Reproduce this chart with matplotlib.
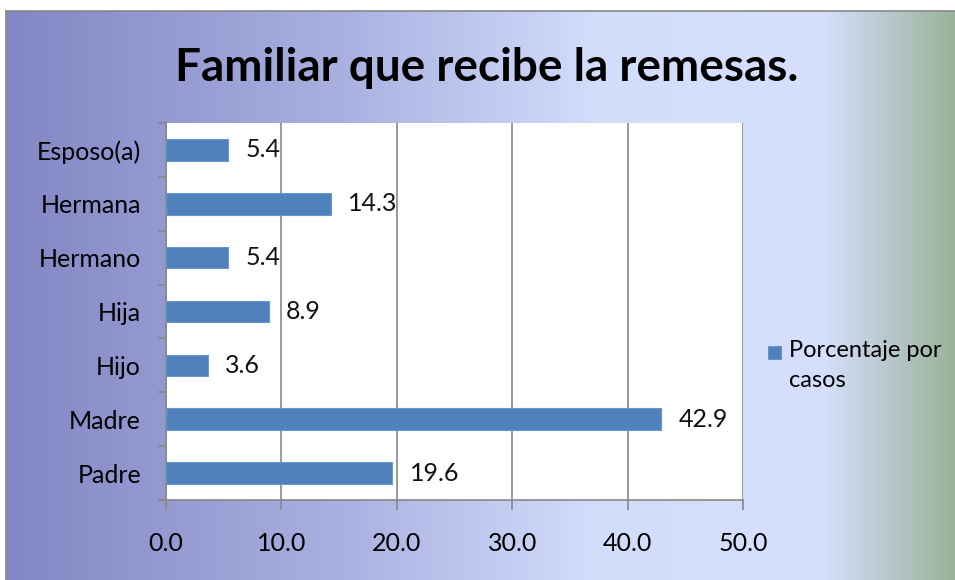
import numpy as np
import matplotlib.pyplot as plt
from matplotlib.colors import LinearSegmentedColormap
from matplotlib.patches import Rectangle

categorias = ["Padre", "Madre", "Hijo", "Hija", "Hermano", "Hermana", "Esposo(a)"]
porcentajes = [19.6, 42.9, 3.6, 8.9, 5.4, 14.3, 5.4]
xticks = [0, 10, 20, 30, 40, 50]
serie = "Porcentaje por\ncasos"

font = ["Lato", "DejaVu Sans"]
plt.rcParams['font.family'] = font

fig = plt.figure(figsize=(9.55, 5.8), dpi=100)
W, H = 955, 580

# fondo degradado
bg = fig.add_axes([6 / W, 0, 1 - 6 / W, (H - 11) / H])
cmap = LinearSegmentedColormap.from_list("fondo", [
    (0.0, "#8286C4"), (0.35, "#A9B0E0"), (0.62, "#D2DCFB"),
    (0.86, "#D6E0FE"), (1.0, "#9AB29B")])
bg.imshow(np.linspace(0, 1, 256).reshape(1, -1), aspect="auto", cmap=cmap,
          extent=[0, 1, 0, 1])
bg.set_xticks([])
bg.set_yticks([])
for s in bg.spines.values():
    s.set_color("#888888")
    s.set_linewidth(1.2)
bg.spines["right"].set_visible(False)
bg.spines["bottom"].set_visible(False)

ax = fig.add_axes([166 / W, (H - 500) / H, (743 - 166) / W, (500 - 123) / H])
ax.set_facecolor("white")
y = np.arange(len(categorias))
ax.barh(y, porcentajes, height=0.4, color="#4F81BD", edgecolor="#6C95C8",
        linewidth=0.8, zorder=3)
for yi, v in zip(y, porcentajes):
    ax.text(v + 1.5, yi, f"{v:.1f}", va="center", ha="left", fontsize=18,
            color="#111111")

ax.set_xlim(0, 50)
ax.set_ylim(-0.5, len(categorias) - 0.5)
ax.set_xticks(xticks)
ax.set_xticklabels([f"{t:.1f}" for t in xticks], fontsize=18)
ax.set_yticks(y)
ax.set_yticklabels(categorias, fontsize=18)
ax.set_yticks(np.arange(-0.5, len(categorias), 1), minor=True)
ax.tick_params(axis="y", which="major", length=0, pad=18)
ax.tick_params(axis="y", which="minor", length=6, color="#888888", width=1.2)
ax.tick_params(axis="x", length=7, color="#888888", width=1.2, pad=16)
ax.grid(axis="x", color="#888888", linewidth=1.2, zorder=1)
ax.spines["top"].set_visible(False)
ax.spines["right"].set_visible(False)
ax.spines["left"].set_color("#888888")
ax.spines["bottom"].set_color("#888888")
ax.spines["left"].set_linewidth(1.2)
ax.spines["bottom"].set_linewidth(1.2)

fig.text(487 / W, (H - 68) / H, "Familiar que recibe la remesas.",
         ha="center", va="center", fontsize=33, fontweight="bold")

# leyenda
fig.patches.append(Rectangle((768 / W, (H - 359) / H), 13 / W, 13 / H,
                             transform=fig.transFigure, facecolor="#4F81BD",
                             edgecolor="#6C95C8", linewidth=0.8))
fig.text(789 / W, (H - 340) / H, serie, ha="left", va="top", fontsize=17,
         linespacing=1.55)

fig.savefig("out.png", dpi=100)
